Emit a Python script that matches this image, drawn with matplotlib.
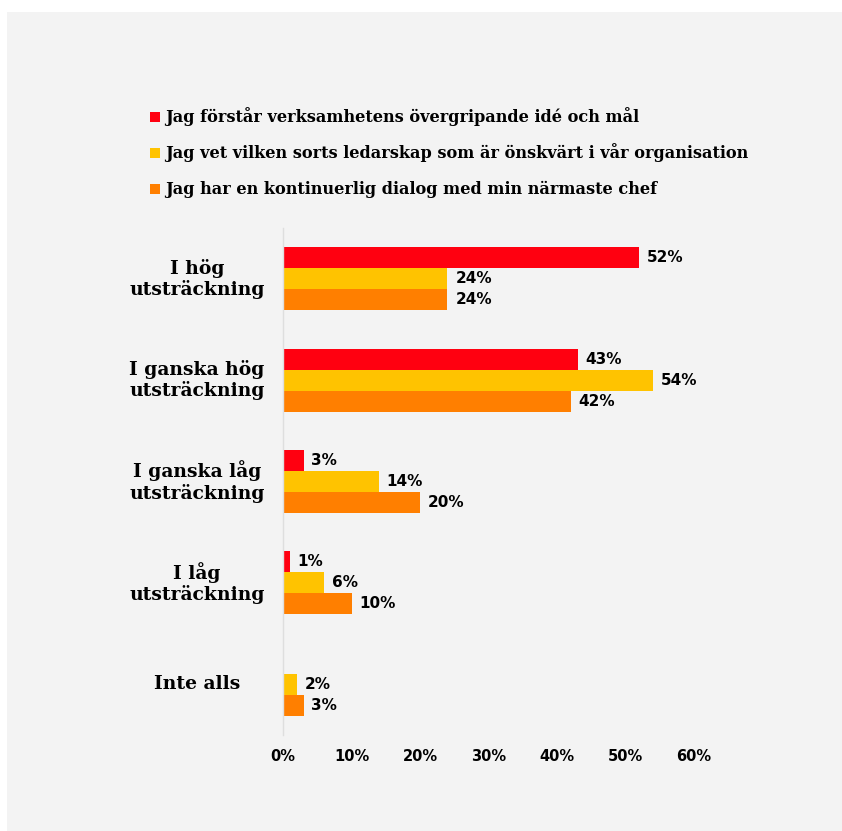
import matplotlib.pyplot as plt
import numpy as np
from matplotlib.patches import Rectangle

# Svarsalternativ och andel (%) per påstående
kategorier = ['I hög\nutsträckning', 'I ganska hög\nutsträckning',
              'I ganska låg\nutsträckning', 'I låg\nutsträckning', 'Inte alls']
forstar_ide = [52, 43, 3, 1, 0]
vet_ledarskap = [24, 54, 14, 6, 2]
dialog_chef = [24, 42, 20, 10, 3]

serier = [
    ('Jag förstår verksamhetens övergripande idé och mål', forstar_ide, '#ff0010'),
    ('Jag vet vilken sorts ledarskap som är önskvärt i vår organisation', vet_ledarskap, '#ffc300'),
    ('Jag har en kontinuerlig dialog med min närmaste chef', dialog_chef, '#ff7f00'),
]
xticks = [0, 10, 20, 30, 40, 50, 60]

W, H = 842, 831
fig = plt.figure(figsize=(W / 100, H / 100), dpi=100)
fig.patch.set_facecolor('white')
# grå bakgrundspanel
fig.patches.append(Rectangle((7 / W, 0), 1 - 7 / W, 1 - 12 / H,
                             transform=fig.transFigure, facecolor='#f3f3f3',
                             edgecolor='none', zorder=-10))

ax = fig.add_axes([283 / W, 1 - 735 / H, (694 - 283) / W, (735 - 228) / H])
ax.set_facecolor('none')

y = np.arange(len(kategorier))
h = 0.207
for i, (namn, vals, farg) in enumerate(serier):
    pos = y + (i - 1) * h
    ax.barh(pos, vals, height=h, color=farg, edgecolor='none')
    for p, v in zip(pos, vals):
        if v > 0:
            ax.text(v + 1.15, p, f'{v}%', va='center', ha='left',
                    fontsize=11, fontweight='bold', family='DejaVu Sans')

ax.set_xlim(0, 60)
ax.set_ylim(4.5, -0.5)
ax.set_xticks(xticks)
ax.set_xticklabels([f'{t}%' for t in xticks], fontsize=10.5, fontweight='bold',
                   family='DejaVu Sans')
ax.tick_params(axis='x', length=0, pad=10)
ax.set_yticks([])
for s in ['top', 'right', 'bottom']:
    ax.spines[s].set_visible(False)
ax.spines['left'].set_color('#dedede')
ax.spines['left'].set_linewidth(1)

# kategorietiketter, centrerade till vänster om axeln
for yi, lab in zip(y, kategorier):
    ax.text(-0.209, yi, lab, transform=ax.get_yaxis_transform(),
            ha='center', va='center', fontsize=13.5, fontweight='bold',
            family='DejaVu Serif', linespacing=1.15)

# förklaring
for i, (namn, vals, farg) in enumerate(serier):
    yc = 117 + i * 36
    fig.patches.append(Rectangle((150 / W, 1 - (yc + 5) / H), 10 / W, 10 / H,
                                 transform=fig.transFigure, facecolor=farg,
                                 edgecolor='none'))
    fig.text(165 / W, 1 - yc / H, namn, ha='left', va='center',
             fontsize=11.6, fontweight='bold', family='DejaVu Serif')

fig.savefig('out.png', dpi=100)
